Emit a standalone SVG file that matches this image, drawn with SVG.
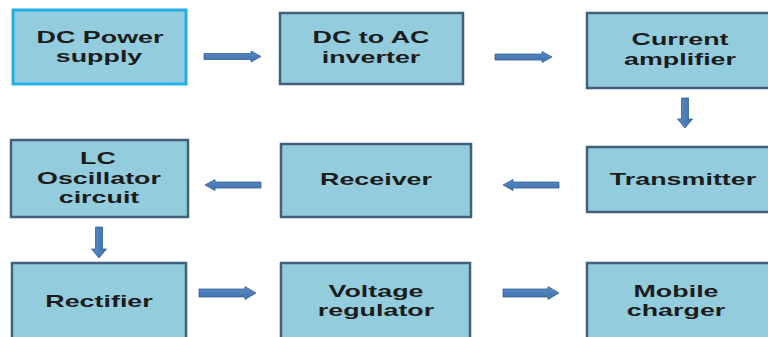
<svg xmlns="http://www.w3.org/2000/svg" width="768" height="337" viewBox="0 0 768 337">
<defs>
<linearGradient id="ag" x1="0" y1="0" x2="0" y2="1">
<stop offset="0" stop-color="#5a8ccb"/>
<stop offset="1" stop-color="#3f6fa8"/>
</linearGradient>
<linearGradient id="agv" x1="0" y1="0" x2="1" y2="0">
<stop offset="0" stop-color="#5a8ccb"/>
<stop offset="1" stop-color="#3f6fa8"/>
</linearGradient>
</defs>
<style>
.box{fill:#93cddd;stroke:#40607c;stroke-width:2.5}
.box1{fill:#93cddd;stroke:#22aee6;stroke-width:3}
.t{font-family:"Liberation Sans",Arial,sans-serif;font-weight:bold;font-size:16px;fill:#1c1c1c;text-anchor:middle}
.ar{fill:url(#ag);stroke:#34608f;stroke-width:0.8}
.arv{fill:url(#agv);stroke:#34608f;stroke-width:0.8}
</style>
<rect width="768" height="337" fill="#ffffff"/>
<g id="n1">
<rect class="box1" x="13" y="10" width="173" height="74"/>
<text class="t" transform="matrix(1.68 0 0 1 100 43)">DC Power</text>
<text class="t" transform="matrix(1.68 0 0 1 99 62)">supply</text>
</g>
<g id="n2">
<rect class="box" x="280" y="13" width="183" height="71"/>
<text class="t" transform="matrix(1.68 0 0 1 371 43)">DC to AC</text>
<text class="t" transform="matrix(1.68 0 0 1 371 63)">inverter</text>
</g>
<g id="n3">
<rect class="box" x="587" y="13" width="200" height="75"/>
<text class="t" transform="matrix(1.68 0 0 1 680 45)">Current</text>
<text class="t" transform="matrix(1.68 0 0 1 680 65)">amplifier</text>
</g>
<g id="n4">
<rect class="box" x="587" y="147" width="200" height="65"/>
<text class="t" transform="matrix(1.68 0 0 1 683 185)">Transmitter</text>
</g>
<g id="n5">
<rect class="box" x="281" y="144" width="190" height="73"/>
<text class="t" transform="matrix(1.68 0 0 1 376 185)">Receiver</text>
</g>
<g id="n6">
<rect class="box" x="11" y="140" width="177" height="77"/>
<text class="t" transform="matrix(1.68 0 0 1 98 164)">LC</text>
<text class="t" transform="matrix(1.68 0 0 1 99 184)">Oscillator</text>
<text class="t" transform="matrix(1.68 0 0 1 99 203)">circuit</text>
</g>
<g id="n7">
<rect class="box" x="12" y="263" width="174" height="90"/>
<text class="t" transform="matrix(1.68 0 0 1 99 307)">Rectifier</text>
</g>
<g id="n8">
<rect class="box" x="281" y="263" width="189" height="90"/>
<text class="t" transform="matrix(1.68 0 0 1 376 297)">Voltage</text>
<text class="t" transform="matrix(1.68 0 0 1 376 316)">regulator</text>
</g>
<g id="n9">
<rect class="box" x="587" y="263" width="200" height="90"/>
<text class="t" transform="matrix(1.68 0 0 1 676 297)">Mobile</text>
<text class="t" transform="matrix(1.68 0 0 1 676 316)">charger</text>
</g>
<g id="connectors">
<polygon class="ar" points="204,53.5 251,53.5 251,51 261,56.5 251,62 251,59.5 204,59.5"/>
<polygon class="ar" points="495,54 542,54 542,51.5 552,57 542,62.5 542,60 495,60"/>
<polygon class="arv" points="681.5,98 688.5,98 688.5,119 692.5,119 685,128 677.5,119 681.5,119"/>
<polygon class="ar" points="559,182 513,182 513,179.5 503,185 513,190.5 513,188 559,188"/>
<polygon class="ar" points="261,182 215,182 215,179.5 205,185 215,190.5 215,188 261,188"/>
<polygon class="arv" points="95.5,227 102.5,227 102.5,249 106.5,249 99,258 91.5,249 95.5,249"/>
<polygon class="ar" points="199,289 245,289 245,286.5 256,293 245,299.5 245,297 199,297"/>
<polygon class="ar" points="503,289 548,289 548,286.5 559,293 548,299.5 548,297 503,297"/>
</g>
</svg>
